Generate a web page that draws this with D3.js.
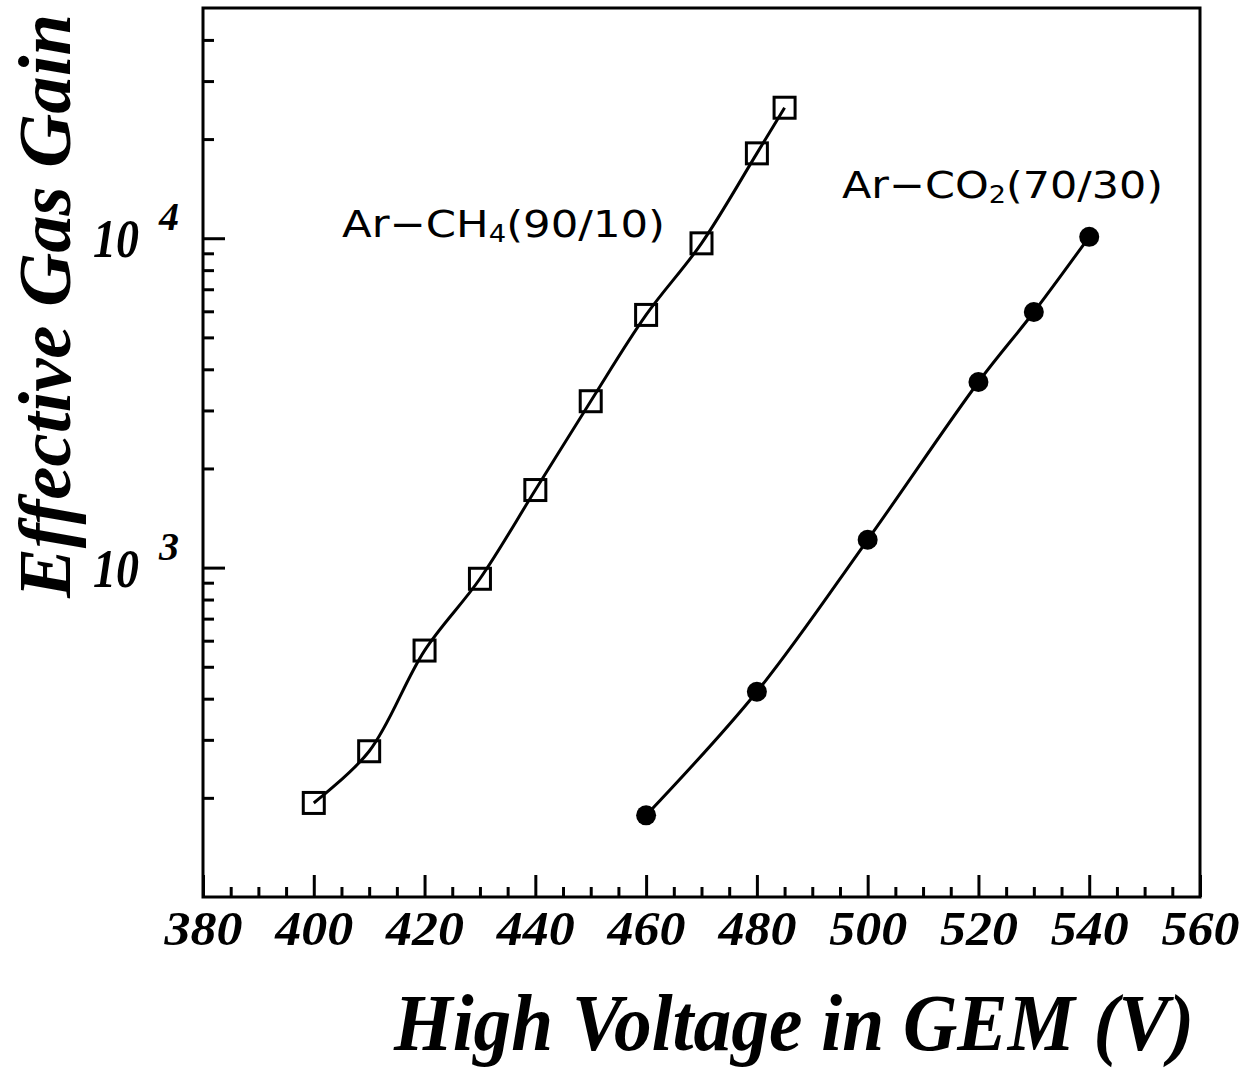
<!DOCTYPE html>
<html>
<head>
<meta charset="utf-8">
<script src="https://cdn.jsdelivr.net/npm/d3@7"></script>
<style>
  html, body { margin: 0; padding: 0; background: #fff; }
  svg { display: block; }
</style>
</head>
<body>
<svg id="chart" width="1245" height="1071"></svg>
<script>
// ---- data ----
const ch4Voltage = [400, 410, 420, 430, 440, 450, 460, 470, 480, 485];
const ch4Gain    = [193, 277, 560, 925, 1720, 3200, 5850, 9650, 18100, 24900];
const co2Voltage = [460, 480, 500, 520, 530, 540];
const co2Gain    = [177, 420, 1215, 3660, 5970, 10100];
const xMajorTicks = [380, 400, 420, 440, 460, 480, 500, 520, 540, 560];
const yMajorTicks = [1000, 10000];
const yTickExponents = ["3", "4"];
const seriesNames = ["Ar\u2212CH", "Ar\u2212CO"];
const seriesSubs = ["4", "2"];
const seriesTails = ["(90/10)", "(70/30)"];
const xTitle = "High Voltage in GEM (V)";
const yTitle = "Effective Gas Gain";

// ---- layout ----
const L = 203, R = 1200, T = 8, B = 897;
const svg = d3.select("#chart");
const x = d3.scaleLinear().domain([380, 560]).range([L, R]);
const y = d3.scaleLog().domain([100, 50000]).range([B, T]);

const serif = "'Liberation Serif', 'Times New Roman', serif";
const sans = "'DejaVu Sans', Verdana, sans-serif";

// minor ticks
const xMinor = d3.range(385, 560, 5).filter(v => v % 20 !== 0);
const yMinor = [];
[100, 1000, 10000].forEach(d => { for (let k = 2; k <= 9; k++) { const v = k * d; if (v < 50000) yMinor.push(v); } });

// x axis
const gx = svg.append("g").attr("transform", `translate(0,${B})`);
gx.call(d3.axisBottom(x).tickValues(xMinor).tickSize(-10).tickFormat(""));
gx.append("g").call(d3.axisBottom(x).tickValues(xMajorTicks).tickSize(-22).tickPadding(14).tickFormat(d3.format("d")));
gx.selectAll(".domain").remove();
gx.selectAll("line").attr("stroke", "#000").attr("stroke-width", 3);
gx.selectAll("text")
  .attr("fill", "#000")
  .style("font-family", serif).style("font-weight", "bold").style("font-style", "italic")
  .style("font-size", "48px")
  .attr("textLength", 78).attr("lengthAdjust", "spacingAndGlyphs");

// y axis
const gy = svg.append("g").attr("transform", `translate(${L},0)`);
gy.call(d3.axisLeft(y).tickValues(yMinor).tickSize(-11).tickFormat(""));
gy.append("g").call(d3.axisLeft(y).tickValues(yMajorTicks).tickSize(-22).tickFormat(""));
gy.selectAll(".domain").remove();
gy.selectAll("line").attr("stroke", "#000").attr("stroke-width", 3);

// y tick labels 10^n
const yl = svg.append("g").selectAll("g").data(yMajorTicks).join("g")
  .attr("transform", d => `translate(0,${y(d)})`);
yl.append("text").attr("x", 93).attr("y", 19).text("10")
  .style("font-family", serif).style("font-weight", "bold").style("font-style", "italic")
  .style("font-size", "54px").attr("textLength", 46).attr("lengthAdjust", "spacingAndGlyphs");
yl.append("text").attr("x", 159).attr("y", -8).text((d, i) => yTickExponents[i])
  .style("font-family", serif).style("font-weight", "bold").style("font-style", "italic")
  .style("font-size", "40px");

// frame
svg.append("rect").attr("x", L).attr("y", T).attr("width", R - L).attr("height", B - T)
  .attr("fill", "none").attr("stroke", "#000").attr("stroke-width", 3);

// lines
const line = d3.line().x(d => x(d[0])).y(d => y(d[1])).curve(d3.curveCatmullRom.alpha(0.5));
const ch4 = ch4Voltage.map((v, i) => [v, ch4Gain[i]]);
const co2 = co2Voltage.map((v, i) => [v, co2Gain[i]]);
svg.append("path").datum(ch4).attr("d", line).attr("fill", "none").attr("stroke", "#000").attr("stroke-width", 3);
svg.append("path").datum(co2).attr("d", line).attr("fill", "none").attr("stroke", "#000").attr("stroke-width", 3);

// markers
const sq = 21;
svg.append("g").selectAll("rect").data(ch4).join("rect")
  .attr("x", d => x(d[0]) - sq / 2).attr("y", d => y(d[1]) - sq / 2)
  .attr("width", sq).attr("height", sq)
  .attr("fill", "none").attr("stroke", "#000").attr("stroke-width", 3);
svg.append("g").selectAll("circle").data(co2).join("circle")
  .attr("cx", d => x(d[0])).attr("cy", d => y(d[1])).attr("r", 10).attr("fill", "#000");

// series labels
const labelPos = [[342, 237, 323], [842, 198, 321]];
labelPos.forEach((p, i) => {
  const t = svg.append("text").attr("x", p[0]).attr("y", p[1])
    .style("font-family", sans).style("font-size", "38px").attr("fill", "#000")
    .attr("textLength", p[2]).attr("lengthAdjust", "spacingAndGlyphs");
  t.append("tspan").text(seriesNames[i]);
  t.append("tspan").attr("dy", 5).style("font-size", "24px").text(seriesSubs[i]);
  t.append("tspan").attr("dy", -5).text(seriesTails[i]);
});

// axis titles
svg.append("text").attr("x", 794).attr("y", 1050).attr("text-anchor", "middle")
  .style("font-family", serif).style("font-weight", "bold").style("font-style", "italic")
  .style("font-size", "80px").attr("textLength", 800).attr("lengthAdjust", "spacingAndGlyphs")
  .text(xTitle);
svg.append("text").attr("transform", "translate(70,306) rotate(-90)").attr("text-anchor", "middle")
  .style("font-family", serif).style("font-weight", "bold").style("font-style", "italic")
  .style("font-size", "74px").attr("textLength", 584).attr("lengthAdjust", "spacingAndGlyphs")
  .text(yTitle);
</script>
</body>
</html>
